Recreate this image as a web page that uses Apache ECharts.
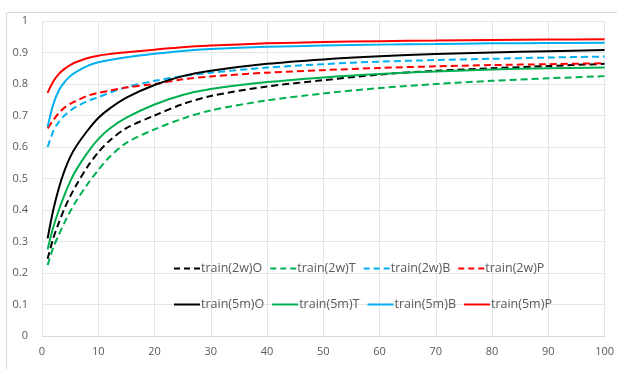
<!DOCTYPE html>
<html>
<head>
<meta charset="utf-8">
<script src="https://cdn.jsdelivr.net/npm/echarts@6/dist/echarts.min.js"></script>
<style>
  html, body { margin: 0; padding: 0; background: #fff; }
  #chart { width: 617px; height: 369px; }
</style>
</head>
<body>
<div id="chart"></div>
<script>
// x positions (training size) shared by all curves
const xs = [1, 2, 3, 4, 5, 6, 8, 10, 12, 15, 20, 25, 30, 40, 50, 60, 70, 80, 90, 100]

// 2w curves (dashed)
const train2wO = [0.245, 0.31, 0.36, 0.405, 0.443, 0.476, 0.535, 0.583, 0.62, 0.66, 0.70, 0.736, 0.762, 0.792, 0.812, 0.83, 0.842, 0.85, 0.857, 0.864]
const train2wT = [0.225, 0.28, 0.322, 0.36, 0.395, 0.426, 0.48, 0.527, 0.568, 0.613, 0.656, 0.69, 0.716, 0.748, 0.77, 0.787, 0.80, 0.81, 0.818, 0.825]
const train2wB = [0.60, 0.65, 0.68, 0.70, 0.715, 0.727, 0.745, 0.758, 0.772, 0.79, 0.81, 0.825, 0.836, 0.852, 0.863, 0.871, 0.876, 0.88, 0.884, 0.887]
const train2wP = [0.659, 0.685, 0.708, 0.725, 0.737, 0.746, 0.762, 0.772, 0.779, 0.789, 0.80, 0.815, 0.824, 0.836, 0.844, 0.851, 0.856, 0.86, 0.863, 0.866]

// 5m curves (solid)
const train5mO = [0.31, 0.40, 0.47, 0.525, 0.568, 0.60, 0.65, 0.692, 0.722, 0.757, 0.797, 0.825, 0.842, 0.864, 0.878, 0.888, 0.895, 0.9, 0.904, 0.908]
const train5mT = [0.275, 0.345, 0.40, 0.448, 0.49, 0.525, 0.58, 0.625, 0.658, 0.693, 0.735, 0.765, 0.784, 0.806, 0.821, 0.832, 0.84, 0.846, 0.85, 0.852]
const train5mB = [0.664, 0.735, 0.78, 0.806, 0.825, 0.838, 0.857, 0.869, 0.876, 0.885, 0.896, 0.905, 0.911, 0.918, 0.922, 0.925, 0.927, 0.929, 0.93, 0.931]
const train5mP = [0.772, 0.808, 0.832, 0.848, 0.86, 0.869, 0.882, 0.89, 0.895, 0.901, 0.909, 0.917, 0.922, 0.929, 0.933, 0.936, 0.938, 0.94, 0.941, 0.942]

const names2w = ['train(2w)O', 'train(2w)T', 'train(2w)B', 'train(2w)P']
const names5m = ['train(5m)O', 'train(5m)T', 'train(5m)B', 'train(5m)P']
const colors = ['#000000', '#00b050', '#00b0f0', '#ff0000']

// legend glyphs: three dashes or one bar, 26 x 2
const dashIcon = 'path://M0,0h6v2h-6z M10,0h6v2h-6z M20,0h6v2h-6z'
const solidIcon = 'path://M0,0h26v2h-26z'

const pairs = (ys) => xs.map((x, i) => [x, ys[i]])

function line(name, ys, color, dashed) {
  return {
    name,
    type: 'line',
    data: pairs(ys),
    smooth: 0.3,
    symbol: 'none',
    color,
    lineStyle: {
      color,
      width: 2,
      type: dashed ? [7, 4] : 'solid'
    }
  }
}

const series = [
  line(names2w[0], train2wO, colors[0], true),
  line(names2w[1], train2wT, colors[1], true),
  line(names2w[2], train2wB, colors[2], true),
  line(names2w[3], train2wP, colors[3], true),
  line(names5m[0], train5mO, colors[0], false),
  line(names5m[1], train5mT, colors[1], false),
  line(names5m[2], train5mB, colors[2], false),
  line(names5m[3], train5mP, colors[3], false)
]

const labelFont = {
  color: '#595959',
  fontSize: 11,
  fontFamily: 'Open Sans'
}

const legendBase = {
  orient: 'horizontal',
  left: 169,
  itemWidth: 26,
  itemHeight: 2,
  itemGap: 8,
  textStyle: {
    color: '#595959',
    fontSize: 12.5,
    fontFamily: 'Open Sans',
    width: 72,
    padding: [0, 0, 0, -4]
  }
}

const chart = echarts.init(document.getElementById('chart'))
chart.setOption({
  animation: false,
  backgroundColor: '#ffffff',
  graphic: [{
    type: 'rect',
    left: 4,
    top: 10,
    shape: { width: 640, height: 400 },
    style: { fill: 'none', stroke: '#d9d9d9', lineWidth: 1 },
    silent: true
  }],
  grid: {
    left: 42,
    right: 11,
    top: 21,
    bottom: 33
  },
  legend: [
    Object.assign({}, legendBase, {
      top: 257,
      data: names2w.map(n => ({ name: n, icon: dashIcon }))
    }),
    Object.assign({}, legendBase, {
      top: 293,
      data: names5m.map(n => ({ name: n, icon: solidIcon }))
    })
  ],
  xAxis: {
    type: 'value',
    min: 0,
    max: 100,
    interval: 10,
    axisLine: { show: true, lineStyle: { color: '#d9d9d9' } },
    axisTick: { show: false },
    axisLabel: Object.assign({ margin: 10 }, labelFont),
    splitLine: { show: true, lineStyle: { color: '#e6e6e6' } }
  },
  yAxis: {
    type: 'value',
    min: 0,
    max: 1,
    interval: 0.1,
    axisLine: { show: false },
    axisTick: { show: false },
    axisLabel: Object.assign({ margin: 14 }, labelFont),
    splitLine: { show: true, lineStyle: { color: '#e6e6e6' } }
  },
  series
})
</script>
</body>
</html>
